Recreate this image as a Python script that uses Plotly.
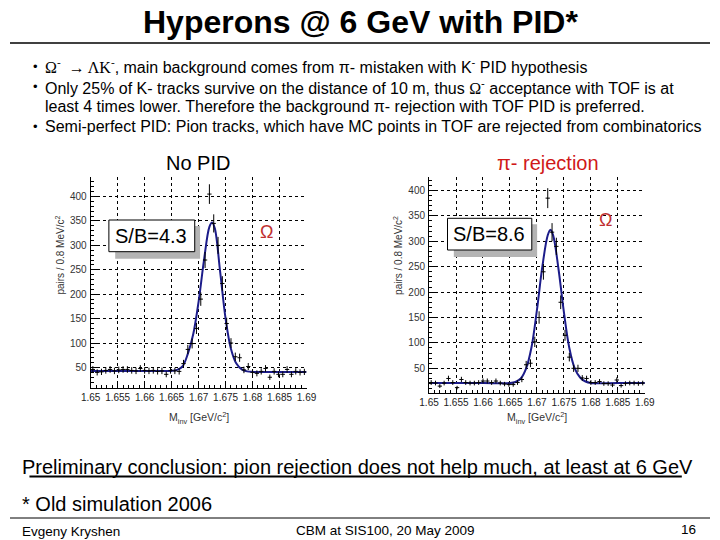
import plotly.graph_objects as go

# ---------------- data ----------------
mass_bins = [1.6504, 1.6512, 1.6520, 1.6528, 1.6536, 1.6544, 1.6552, 1.6560, 1.6568, 1.6576,
             1.6584, 1.6592, 1.6600, 1.6608, 1.6616, 1.6624, 1.6632, 1.6640, 1.6648, 1.6656,
             1.6664, 1.6672, 1.6680, 1.6688, 1.6696, 1.6704, 1.6712, 1.6720, 1.6728, 1.6736,
             1.6744, 1.6752, 1.6760, 1.6768, 1.6776, 1.6784, 1.6792, 1.6800, 1.6808, 1.6816,
             1.6824, 1.6832, 1.6840, 1.6848, 1.6856, 1.6864, 1.6872, 1.6880, 1.6888, 1.6896]

counts_nopid = [46, 40, 41, 44, 46, 43, 45, 46, 46, 44,
                43, 48, 44, 43, 44, 42, 43, 36, 44, 43,
                42, 58, 87, 99, 130, 190, 270, 405, 345, 300,
                222, 140, 100, 72, 70, 45, 52, 40, 38, 42,
                48, 30, 42, 36, 36, 46, 36, 42, 40, 41]

counts_pirej = [22, 21, 15, 21, 30, 22, 12, 28, 22, 21,
                21, 22, 25, 25, 22, 25, 21, 19, 18, 18,
                22, 28, 57, 60, 102, 150, 240, 385, 318, 290,
                180, 115, 72, 50, 50, 31, 30, 22, 22, 24,
                20, 20, 17, 27, 16, 20, 21, 21, 20, 21]

fit_x = [1.650, 1.660, 1.665, 1.666, 1.667, 1.668, 1.669, 1.670, 1.671, 1.672, 1.6725,
         1.673, 1.674, 1.675, 1.676, 1.677, 1.678, 1.679, 1.680, 1.685, 1.690]
fit_nopid = [43, 43, 43, 45, 52, 78, 118, 185, 270, 338, 347,
             335, 245, 150, 88, 58, 46, 42, 41, 41, 41]
fit_pirej = [21, 21, 21, 23, 30, 50, 92, 165, 250, 312, 323,
             312, 245, 160, 90, 50, 32, 24, 21, 21, 21]

x_ticks = [1.65, 1.655, 1.66, 1.665, 1.67, 1.675, 1.68, 1.685, 1.69]
x_ticklabels = ["1.65", "1.655", "1.66", "1.665", "1.67", "1.675", "1.68", "1.685", "1.69"]
y_ticks = [50, 100, 150, 200, 250, 300, 350, 400]

W, H = 720, 540
def px(x):
    return x / W
def py(y):
    return 1 - y / H

FONT = "Liberation Sans, Arial, sans-serif"
SERIF = "Liberation Serif, Times New Roman, serif"
FIT_COLOR = "#1c1c8a"

fig = go.Figure()

for i, (counts, fit) in enumerate([(counts_nopid, fit_nopid), (counts_pirej, fit_pirej)]):
    xa = "x" if i == 0 else "x2"
    ya = "y" if i == 0 else "y2"
    fig.add_trace(go.Scatter(
        x=fit_x, y=fit, mode="lines", line=dict(color=FIT_COLOR, width=2, shape="spline"),
        xaxis=xa, yaxis=ya, showlegend=False, hoverinfo="skip"))
    fig.add_trace(go.Scatter(
        x=mass_bins, y=counts, mode="markers",
        marker=dict(size=1, color="black"),
        error_y=dict(type="sqrt", color="black", thickness=1, width=0),
        error_x=dict(type="constant", value=0.0004, color="black", thickness=1, width=0),
        xaxis=xa, yaxis=ya, showlegend=False))

def xaxis_cfg(domain, anchor):
    return dict(domain=domain, anchor=anchor, range=[1.65, 1.69],
                tickvals=x_ticks, ticktext=x_ticklabels,
                ticks="inside", ticklen=6, tickcolor="black",
                minor=dict(dtick=0.001, ticks="inside", ticklen=3, tickcolor="black", showgrid=False),
                showgrid=True, gridcolor="black", griddash="dot", gridwidth=1,
                showline=True, linecolor="black", linewidth=1, mirror=False, zeroline=False,
                tickfont=dict(family=FONT, size=10, color="#222"))

def yaxis_cfg(domain, anchor, rng):
    return dict(domain=domain, anchor=anchor, range=rng,
                tickvals=y_ticks, ticks="inside", ticklen=6, tickcolor="black",
                minor=dict(dtick=10, ticks="inside", ticklen=3, tickcolor="black", showgrid=False),
                showgrid=True, gridcolor="black", griddash="dot", gridwidth=1,
                showline=True, linecolor="black", linewidth=1, mirror=False, zeroline=False,
                ticklabelstandoff=1,
                tickfont=dict(family=FONT, size=10, color="#333"))

fig.update_layout(
    width=W, height=H, margin=dict(l=0, r=0, t=0, b=0),
    paper_bgcolor="white", plot_bgcolor="white",
    font=dict(family=FONT, color="black"),
    xaxis=xaxis_cfg([px(83), px(305)], "y"),
    yaxis=yaxis_cfg([py(388), py(177)], "x", [8, 440]),
    xaxis2=xaxis_cfg([px(431), px(653)], "y2"),
    yaxis2=yaxis_cfg([py(392.7), py(177.3)], "x2", [2, 426]),
)

shapes = []
shapes.append(dict(type="line", xref="paper", yref="paper", x0=0, x1=1, y0=py(43), y1=py(43),
                   line=dict(color="black", width=1.5)))
shapes.append(dict(type="line", xref="paper", yref="paper", x0=px(20), x1=px(691), y0=py(476.5), y1=py(476.5),
                   line=dict(color="black", width=2)))
shapes.append(dict(type="line", xref="paper", yref="paper", x0=0, x1=1, y0=py(518), y1=py(518),
                   line=dict(color="black", width=1)))
for (bx0, by0, bx1, by1) in [(101.7, 220, 190, 251.7), (450, 218.3, 536.7, 250)]:
    shapes.append(dict(type="rect", xref="paper", yref="paper",
                       x0=px(bx0 + 6.5), x1=px(bx1 + 5.5), y0=py(by0 + 6), y1=py(by1 + 7),
                       fillcolor="#b4b4b4", line=dict(width=0), layer="above"))
    shapes.append(dict(type="rect", xref="paper", yref="paper",
                       x0=px(bx0), x1=px(bx1), y0=py(by0), y1=py(by1),
                       fillcolor="white", line=dict(color="black", width=1), layer="above"))
fig.update_layout(shapes=shapes)

ann = []
LPAD = 9  # annotation boxes add internal padding; compensate for left/right anchored text
def text(x, y, s, size, xanchor="left", color="black", family=FONT):
    if xanchor == "left":
        x = x - LPAD
    elif xanchor == "right":
        x = x + LPAD
    ann.append(dict(x=px(x), y=py(y), xref="paper", yref="paper", text=s, showarrow=False,
                    xanchor=xanchor, yanchor="middle", borderpad=0,
                    font=dict(family=family, size=size, color=color)))

text(360, 22, "<b>Hyperons @ 6 GeV with PID*</b>", 32, xanchor="center")

BUL = 16
for yb in [66, 87, 126]:
    text(32, yb, "•", 13)
text(44, 66, "<span style='font-family:Liberation Serif'>Ω<sup>-</sup>  → ΛK<sup>-</sup></span>, main background comes from π- mistaken with K<sup>-</sup> PID hypothesis", BUL)
text(44, 87, "Only 25% of K- tracks survive on the distance of 10 m, thus <span style='font-family:Liberation Serif'>Ω</span><sup>-</sup> acceptance with TOF is at", BUL)
text(44, 106, "least 4 times lower. Therefore the background π- rejection with TOF PID is preferred.", BUL)
text(44, 126, "Semi-perfect PID: Pion tracks, which have MC points in TOF are rejected from combinatorics", BUL)

text(193, 163, "No PID", 20, xanchor="center")
text(553, 163, "π- rejection", 20, xanchor="center", color="#d01818")

text(145, 236, "S/B=4.3", 20, xanchor="center")
text(493, 234, "S/B=8.6", 20, xanchor="center")
text(264, 232, "Ω", 18, xanchor="center", color="#c03030")
text(613, 220, "Ω", 18, xanchor="center", color="#c03030")

for xc in [51, 399]:
    ann.append(dict(x=px(xc), y=py(255), xref="paper", yref="paper",
                    text="pairs / 0.8 MeV/c<sup>2</sup>", showarrow=False, textangle=-90,
                    xanchor="center", yanchor="middle",
                    font=dict(family=FONT, size=10, color="#333")))
for xc in [194, 542]:
    text(xc, 418, "M<sub>inv</sub> [GeV/c<sup>2</sup>]", 10.5, xanchor="center", color="#333")

text(20, 467, "Preliminary conclusion: pion rejection does not help much, at least at 6 GeV", 20)
text(20, 504, "* Old simulation 2006", 20)
text(20, 531, "Evgeny Kryshen", 13.5)
text(386, 530, "CBM at SIS100, 20 May 2009", 13.5, xanchor="center")
text(698, 529, "16", 13.5, xanchor="right")

fig.update_layout(annotations=ann)
fig.write_html("out.html", config={"displayModeBar": False},
               post_script="document.body.style.margin='0';document.body.style.overflow='hidden';")
